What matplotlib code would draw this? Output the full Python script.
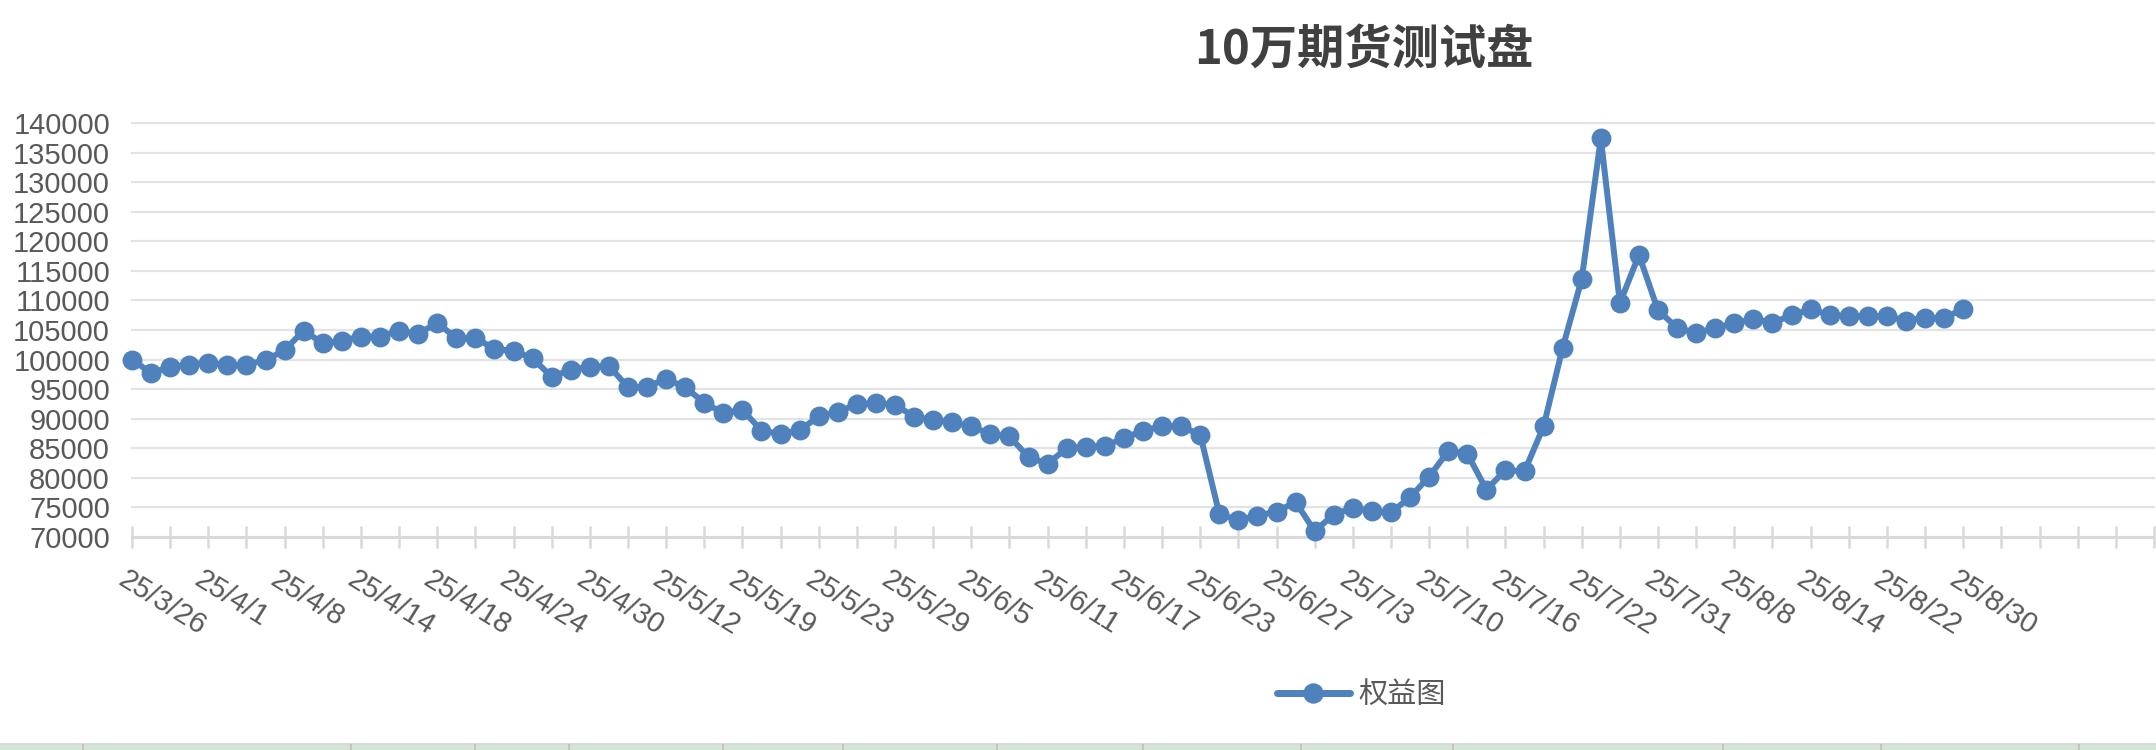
"""Equity curve of the 100k futures test account."""

import matplotlib.pyplot as plt
from matplotlib.patches import Rectangle
from matplotlib.lines import Line2D
from matplotlib.transforms import ScaledTranslation


# Data

DATES = [
    "25/3/26", "25/3/27", "25/3/28", "25/3/31", "25/4/1", "25/4/2", "25/4/3",
    "25/4/7", "25/4/8", "25/4/9", "25/4/10", "25/4/11", "25/4/14", "25/4/15",
    "25/4/16", "25/4/17", "25/4/18", "25/4/21", "25/4/22", "25/4/23",
    "25/4/24", "25/4/25", "25/4/28", "25/4/29", "25/4/30", "25/5/7", "25/5/8",
    "25/5/9", "25/5/12", "25/5/13", "25/5/14", "25/5/16", "25/5/19",
    "25/5/20", "25/5/21", "25/5/22", "25/5/23", "25/5/26", "25/5/27",
    "25/5/28", "25/5/29", "25/5/30", "25/6/3", "25/6/4", "25/6/5", "25/6/6",
    "25/6/9", "25/6/10", "25/6/11", "25/6/12", "25/6/13", "25/6/16",
    "25/6/17", "25/6/18", "25/6/19", "25/6/20", "25/6/23", "25/6/24",
    "25/6/25", "25/6/26", "25/6/27", "25/6/30", "25/7/1", "25/7/2", "25/7/3",
    "25/7/4", "25/7/7", "25/7/9", "25/7/10", "25/7/11", "25/7/14", "25/7/15",
    "25/7/16", "25/7/17", "25/7/18", "25/7/21", "25/7/22", "25/7/24",
    "25/7/28", "25/7/30", "25/7/31", "25/8/1", "25/8/4", "25/8/6", "25/8/8",
    "25/8/11", "25/8/12", "25/8/13", "25/8/14", "25/8/15", "25/8/18",
    "25/8/20", "25/8/22", "25/8/25", "25/8/27", "25/8/28", "25/8/30",
]

EQUITY = [
    100000, 97750, 98750, 99150, 99500, 99050, 99150, 99900, 101600, 104900,
    102750, 103200, 103900, 103900, 104900, 104300, 106250, 103600, 103700,
    101750, 101500, 100200, 97100, 98300, 98750, 98950, 95300, 95400, 96750,
    95300, 92700, 90950, 91500, 88000, 87400, 88050, 90400, 91100, 92500,
    92650, 92400, 90300, 89800, 89400, 88700, 87400, 87000, 83500, 82400,
    85000, 85300, 85400, 86700, 88000, 88700, 88700, 87300, 73900, 72800,
    73600, 74300, 75900, 71000, 73800, 74950, 74400, 74150, 76700, 80200,
    84500, 84100, 78000, 81300, 81100, 88700, 102000, 113600, 137400, 109550,
    117700, 108300, 105400, 104450, 105400, 106100, 106900, 106200, 107500,
    108550, 107500, 107400, 107350, 107350, 106600, 107050, 107050, 108550,
]

SERIES_NAME = "权益图"
TITLE = "10万期货测试盘"

# the category axis runs on past the last value (empty rows in the sheet)
N_CATEGORIES = 107
LABEL_STEP = 4

# Styles

BLUE = "#4f81bd"
GREY_TEXT = "#595959"
GRID = "#e3e3e3"
AXIS = "#d9d9d9"
W, H, DPI = 2156, 750, 100


def px(v):
    """Pixels -> points."""
    return v * 72 / DPI


fig = plt.figure(figsize=(W / DPI, H / DPI), dpi=DPI)
ax = fig.add_axes([132 / W, 1 - 537 / H, (2154 - 132) / W, (537 - 123) / H])

x = list(range(len(EQUITY)))
ax.plot(x, EQUITY, color=BLUE, lw=px(6), marker="o", ms=px(18.5),
        solid_capstyle="round", solid_joinstyle="round", clip_on=False,
        zorder=3)

ax.set_xlim(0, N_CATEGORIES - 1)
ax.set_ylim(70000, 140000)
ax.set_yticks(range(70000, 140001, 5000))

# gridlines
ax.grid(axis="y", color=GRID, lw=px(2.2))
for gl in ax.get_ygridlines():
    gl.set_clip_on(False)
ax.set_axisbelow(True)

for side in ("left", "top", "right"):
    ax.spines[side].set_visible(False)
ax.spines["bottom"].set_color(AXIS)
ax.spines["bottom"].set_linewidth(px(3))

# x ticks: marks every 2 categories, labels every 4
ax.set_xticks(range(0, len(DATES), LABEL_STEP))
ax.set_xticklabels(DATES[::LABEL_STEP])
ax.set_xticks(range(0, N_CATEGORIES, 2), minor=True)
ax.tick_params(axis="x", which="both", direction="inout", length=px(23),
               width=px(2.5), color=AXIS)
ax.tick_params(axis="x", which="major", pad=px(17), labelsize=21,
               labelcolor=GREY_TEXT)
shift = ScaledTranslation(-4 / DPI, 0, fig.dpi_scale_trans)
for lab in ax.get_xticklabels():
    lab.set_rotation(-32)
    lab.set_ha("left")
    lab.set_va("top")
    lab.set_rotation_mode("anchor")
    lab.set_family("Liberation Sans")
    lab.set_transform(lab.get_transform() + shift)

ax.tick_params(axis="y", length=0, pad=px(22), labelsize=21,
               labelcolor=GREY_TEXT)
for lab in ax.get_yticklabels():
    lab.set_family("Liberation Sans")

# title
fig.text(1364 / W, 1 - 50 / H, TITLE, ha="center", va="center",
         fontsize=34, weight="bold", color="#404040",
         family=["Noto Sans CJK SC", "DejaVu Sans"])

# legend
handle = Line2D([], [], color=BLUE, lw=px(7), marker="o", ms=px(19),
                solid_capstyle="round")
fig.legend([handle], [SERIES_NAME], loc="center left",
           bbox_to_anchor=(1277 / W, 1 - 695 / H), frameon=False,
           borderpad=0, borderaxespad=0, handlelength=2.5,
           handletextpad=0.3,
           prop={"family": ["Noto Sans CJK SC"], "size": 21},
           labelcolor=GREY_TEXT)

# spreadsheet strip peeking in at the bottom
fig.add_artist(Rectangle((0, 0), 1, 5 / H, transform=fig.transFigure,
                         color="#d0e8d3", lw=0))
fig.add_artist(Rectangle((0, 5 / H), 1, 2 / H, transform=fig.transFigure,
                         color="#d9d9d9", lw=0))
for cx in [83, 351, 475, 569, 723, 843, 997, 1143, 1301, 1453, 1723, 1881,
           2079]:
    fig.add_artist(Line2D([cx / W, cx / W], [0, 5 / H],
                          transform=fig.transFigure, color="#c4c4c4",
                          lw=px(2)))

fig.savefig("out.png", dpi=DPI)
